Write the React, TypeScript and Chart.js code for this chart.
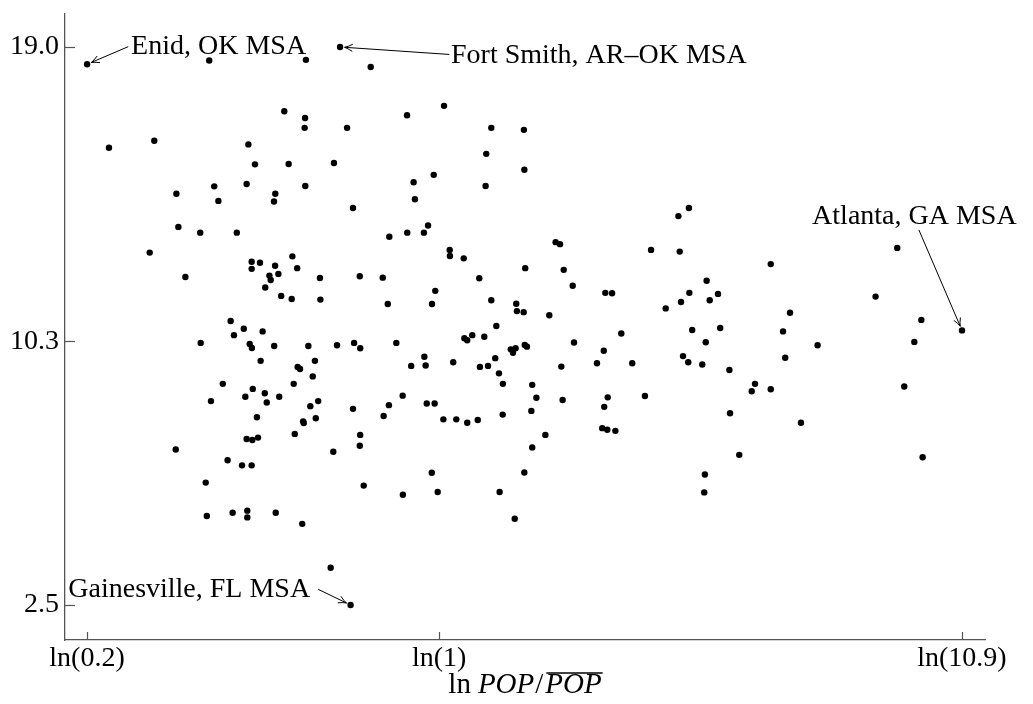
import React, { useEffect, useRef } from "react";
import { Chart, registerables } from "chart.js";

Chart.register(...registerables);

// ln(POP / mean POP) for each MSA
const LN_POP: number[] = [
  -1.609, -1.051, -0.609, -0.453, -0.313, -0.708, -0.613, -0.615, -0.421, -1.509,
  -1.302, -0.872, -0.842, -0.688, -0.481, -1.201, -1.028, -0.880, -0.749, -1.009,
  -0.755, -0.612, -0.394, -1.192, -1.092, -0.925, -1.323, -0.671, -0.857, -0.819,
  -0.750, -0.857, -0.649, -1.160, -0.776, -0.735, -0.770, -0.545, -0.363, -0.795,
  -0.722, -0.674, -0.543, -0.953, -0.893, -0.938, -0.807, -1.090, -0.866, -0.856,
  -0.754, -0.598, -0.467, -0.389, -0.361, -0.816, -0.647, -0.636, -0.568, -0.578,
  -0.989, -0.665, -0.852, -0.797, -0.886, -0.731, -1.043, -0.788, -0.553, -0.589,
  -0.394, -0.833, -0.622, -0.619, -0.564, -0.660, -0.361, -0.880, -0.854, -0.828,
  -1.204, -0.363, -0.484, -0.967, -0.901, -0.857, -1.067, -0.345, -1.062, -0.944,
  -0.877, -0.877, -0.747, -0.626, -0.496, -0.405, 0.022, -0.147, 0.238, 0.387,
  0.215, -0.025, 0.389, -0.117, 0.212, -0.111, -0.051, 1.093, 1.141, -0.228,
  -0.146, -0.070, 0.048, 0.049, 0.112, 0.532, 0.552, 0.968, 1.099, -0.258,
  0.183, 0.393, 0.569, 0.610, -0.018, -0.235, -0.033, 0.238, 0.352, 0.355,
  0.386, 0.503, 0.759, 0.790, 1.035, 1.105, 1.143, 0.261, 0.115, 0.128,
  0.151, 0.206, -0.196, 0.832, 0.616, 0.327, 0.337, 0.349, 0.391, 0.401,
  0.752, -0.068, -0.128, -0.062, 0.064, 0.256, 0.186, 0.223, 0.273, 0.558,
  0.721, 0.882, 1.114, 1.138, 0.291, 0.425, -0.167, -0.230, -0.254, -0.057,
  -0.021, 0.444, 0.564, 0.770, 0.754, 0.940, 0.019, 0.078, 0.128, 0.176,
  0.290, 0.421, 0.485, 0.745, 0.768, 0.805, 0.425, -0.034, 0.389, -0.166,
  -0.007, 0.276, 0.345, 1.515, 2.093, 1.222, 1.274, 1.236, 1.603, 1.994,
  2.203, 2.389, 1.156, 1.284, 1.218, 1.571, 1.729, 1.202, 1.326, 1.581,
  1.443, 1.428, 1.515, 1.329, 1.653, 1.371, 1.214, 1.211, 2.171, 2.125,
  2.209,
];

// vertical-axis value for each MSA
const VALUES: number[] = [
  18.49, 18.60, 18.62, 19.00, 18.41, 17.10, 16.90, 16.61, 16.61, 16.02,
  16.23, 16.12, 15.53, 15.54, 15.57, 14.66, 14.88, 14.95, 14.66, 14.45,
  14.43, 14.89, 14.24, 13.68, 13.51, 13.51, 12.92, 12.81, 12.65, 12.62,
  12.53, 12.44, 12.46, 12.20, 12.24, 12.29, 12.11, 12.17, 12.22, 11.89,
  11.64, 11.55, 11.53, 10.90, 10.67, 10.48, 10.59, 10.25, 10.22, 10.10,
  10.16, 10.16, 10.18, 10.25, 10.09, 9.72, 9.54, 9.48, 9.72, 9.26,
  9.04, 9.04, 8.89, 8.76, 8.66, 8.66, 8.53, 8.49, 8.53, 8.38,
  8.30, 8.05, 7.93, 7.88, 8.02, 7.56, 7.53, 7.41, 7.38, 7.45,
  7.10, 7.21, 7.03, 6.78, 6.63, 6.63, 6.12, 6.03, 5.13, 5.23,
  5.29, 5.09, 5.23, 4.90, 3.60, 2.50, 17.26, 16.98, 16.61, 16.55,
  15.84, 15.22, 15.37, 15.00, 14.89, 14.50, 13.72, 14.00, 14.24, 13.39,
  13.51, 13.51, 13.00, 12.82, 12.75, 13.23, 13.17, 13.00, 12.95, 12.18,
  12.16, 12.46, 12.41, 11.94, 11.79, 11.40, 11.40, 11.51, 11.41, 11.19,
  11.16, 11.07, 11.73, 11.72, 11.27, 11.46, 11.73, 10.75, 10.39, 10.33,
  10.48, 10.43, 10.25, 10.53, 10.26, 10.06, 9.96, 10.09, 10.19, 10.14,
  10.02, 9.84, 9.57, 9.58, 9.68, 9.80, 9.54, 9.57, 9.35, 9.55,
  9.65, 9.65, 9.86, 9.68, 9.04, 9.01, 8.69, 8.41, 8.09, 8.46,
  8.46, 8.63, 8.56, 8.64, 8.36, 8.68, 7.99, 7.99, 7.89, 7.97,
  8.13, 8.24, 7.53, 7.73, 7.68, 7.65, 7.16, 6.41, 6.42, 5.76,
  5.84, 5.84, 5.05, 12.58, 13.06, 12.09, 11.70, 11.51, 11.14, 11.62,
  10.93, 10.62, 10.63, 10.69, 10.27, 10.59, 10.18, 9.61, 9.45, 9.81,
  9.04, 8.82, 8.88, 8.17, 7.89, 6.94, 6.36, 5.83, 10.28, 8.96,
  6.87,
];

const X_TICKS: number[] = [Math.log(0.2), 0, Math.log(10.9)];
const X_TICK_LABELS: string[] = ["ln(0.2)", "ln(1)", "ln(10.9)"];
const Y_TICKS: number[] = [2.5, 10.3, 19.0];
const Y_TICK_LABELS: string[] = ["2.5", "10.3", "19.0"];

// labelled MSAs: index of the point, text anchor (left/baseline) and arrow start, in data units
const LABEL_NAMES: string[] = ["Enid, OK MSA", "Fort Smith, AR–OK MSA", "Gainesville, FL MSA", "Atlanta, GA MSA"];
const LABEL_POINT: number[] = [0, 3, 95, 201];
const LABEL_TEXT_X: number[] = [-1.408, 0.054, -1.695, 1.704];
const LABEL_TEXT_Y: number[] = [18.78, 18.54, 2.745, 13.76];
const LABEL_ARROW_X: number[] = [-1.421, 0.046, -0.553, 2.192];
const LABEL_ARROW_Y: number[] = [19.01, 18.78, 2.964, 13.59];

const FAMILY = "'Liberation Serif', 'DejaVu Serif', serif";
const FONT_SIZE = 28;
const AXIS_COLOR = "#555";

const tickMarksPlugin = {
  id: "insideTicks",
  afterDraw(chart: any) {
    const { ctx, chartArea, scales } = chart;
    const x = scales.x;
    const y = scales.y;
    ctx.save();
    ctx.strokeStyle = AXIS_COLOR;
    ctx.lineWidth = 1.2;
    x.ticks.forEach((t: any) => {
      const px = Math.round(x.getPixelForValue(t.value)) + 0.5;
      ctx.beginPath();
      ctx.moveTo(px, chartArea.bottom);
      ctx.lineTo(px, chartArea.bottom - 8);
      ctx.stroke();
    });
    y.ticks.forEach((t: any) => {
      const py = Math.round(y.getPixelForValue(t.value)) + 0.5;
      ctx.beginPath();
      ctx.moveTo(chartArea.left, py);
      ctx.lineTo(chartArea.left + 10, py);
      ctx.stroke();
    });
    ctx.restore();
  },
};

const annotationPlugin = {
  id: "msaLabels",
  afterDatasetsDraw(chart: any) {
    const { ctx, scales } = chart;
    const x = scales.x;
    const y = scales.y;
    ctx.save();
    ctx.font = `${FONT_SIZE}px ${FAMILY}`;
    ctx.fillStyle = "#000";
    ctx.strokeStyle = "#000";
    ctx.lineWidth = 1;
    ctx.textAlign = "left";
    ctx.textBaseline = "alphabetic";
    LABEL_NAMES.forEach((name, i) => {
      const tx = x.getPixelForValue(LABEL_TEXT_X[i]);
      const ty = y.getPixelForValue(LABEL_TEXT_Y[i]);
      ctx.fillText(name, tx, ty);
      const sx = x.getPixelForValue(LABEL_ARROW_X[i]);
      const sy = y.getPixelForValue(LABEL_ARROW_Y[i]);
      const idx = LABEL_POINT[i];
      const px = x.getPixelForValue(LN_POP[idx]);
      const py = y.getPixelForValue(VALUES[idx]);
      const dx = px - sx;
      const dy = py - sy;
      const len = Math.hypot(dx, dy);
      const ux = dx / len;
      const uy = dy / len;
      const ex = px - ux * 4.5;
      const ey = py - uy * 4.5;
      ctx.beginPath();
      ctx.moveTo(sx, sy);
      ctx.lineTo(ex, ey);
      ctx.stroke();
      const hl = 8;
      const hw = 3.6;
      const nx = -uy;
      const ny = ux;
      const bx = ex - ux * hl;
      const by = ey - uy * hl;
      ctx.beginPath();
      ctx.moveTo(bx + nx * hw, by + ny * hw);
      ctx.quadraticCurveTo(ex - ux * 3 + nx * 0.7, ey - uy * 3 + ny * 0.7, ex, ey);
      ctx.quadraticCurveTo(ex - ux * 3 - nx * 0.7, ey - uy * 3 - ny * 0.7, bx - nx * hw, by - ny * hw);
      ctx.stroke();
    });
    ctx.restore();
  },
};

const axisTitlePlugin = {
  id: "xTitle",
  afterDraw(chart: any) {
    const { ctx, chartArea } = chart;
    const up = `${FONT_SIZE + 1}px ${FAMILY}`;
    const it = `italic ${FONT_SIZE + 1}px ${FAMILY}`;
    const parts: { t: string; f: string; bar?: boolean; gap?: number }[] = [
      { t: "ln", f: up, gap: 7 },
      { t: "POP", f: it, gap: 1 },
      { t: "/", f: up, gap: 2 },
      { t: "POP", f: it, bar: true },
    ];
    ctx.save();
    let total = 0;
    const widths = parts.map((p) => {
      ctx.font = p.f;
      const w = ctx.measureText(p.t).width;
      total += w + (p.gap || 0);
      return w;
    });
    const centerX = (chartArea.left + chartArea.right) / 2;
    let cx = centerX - total / 2;
    const base = chartArea.bottom + 53;
    ctx.fillStyle = "#000";
    ctx.strokeStyle = "#000";
    ctx.textAlign = "left";
    ctx.textBaseline = "alphabetic";
    parts.forEach((p, i) => {
      ctx.font = p.f;
      ctx.fillText(p.t, cx, base);
      if (p.bar) {
        ctx.lineWidth = 1.3;
        ctx.beginPath();
        ctx.moveTo(cx + 1, base - 20);
        ctx.lineTo(cx + widths[i] + 1, base - 20);
        ctx.stroke();
      }
      cx += widths[i] + (p.gap || 0);
    });
    ctx.restore();
  },
};

export default function App() {
  const canvasRef = useRef<HTMLCanvasElement | null>(null);

  useEffect(() => {
    if (!canvasRef.current) return;
    const chart = new Chart(canvasRef.current, {
      type: "scatter",
      data: {
        datasets: [
          {
            data: LN_POP.map((v, i) => ({ x: v, y: VALUES[i] })),
            backgroundColor: "#000",
            borderWidth: 0,
            pointRadius: 3.2,
            pointHoverRadius: 3.2,
          },
        ],
      },
      options: {
        responsive: false,
        maintainAspectRatio: false,
        animation: false,
        events: [],
        layout: { padding: { top: 14, right: 48, left: 0, bottom: 0 } },
        plugins: {
          legend: { display: false },
          tooltip: { enabled: false },
          title: { display: false },
        },
        scales: {
          x: {
            type: "linear",
            min: -1.71,
            max: 2.494,
            grid: { display: false, drawTicks: false },
            border: { display: true, color: AXIS_COLOR, width: 1.3 },
            afterBuildTicks: (scale: any) => {
              scale.ticks = X_TICKS.map((v) => ({ value: v }));
            },
            afterFit: (scale: any) => {
              scale.height = 64;
            },
            ticks: {
              font: { family: FAMILY, size: FONT_SIZE },
              color: "#000",
              padding: 2,
              maxRotation: 0,
              autoSkip: false,
              callback: (_v: any, i: number) => X_TICK_LABELS[i],
            },
          },
          y: {
            type: "linear",
            min: 1.465,
            max: 19.976,
            grid: { display: false, drawTicks: false },
            border: { display: true, color: AXIS_COLOR, width: 1.3 },
            afterBuildTicks: (scale: any) => {
              scale.ticks = Y_TICKS.map((v) => ({ value: v }));
            },
            afterFit: (scale: any) => {
              scale.width = 65;
            },
            ticks: {
              font: { family: FAMILY, size: FONT_SIZE, lineHeight: 0.4 },
              color: "#000",
              padding: 6,
              autoSkip: false,
              callback: (_v: any, i: number) => Y_TICK_LABELS[i],
            },
          },
        },
      },
      plugins: [tickMarksPlugin, annotationPlugin, axisTitlePlugin],
    });
    return () => chart.destroy();
  }, []);

  return (
    <div style={{ position: "fixed", left: 0, top: 0, width: 1033, height: 704, background: "#fff" }}>
      <canvas ref={canvasRef} width={1033} height={704} style={{ width: 1033, height: 704 }} />
    </div>
  );
}
